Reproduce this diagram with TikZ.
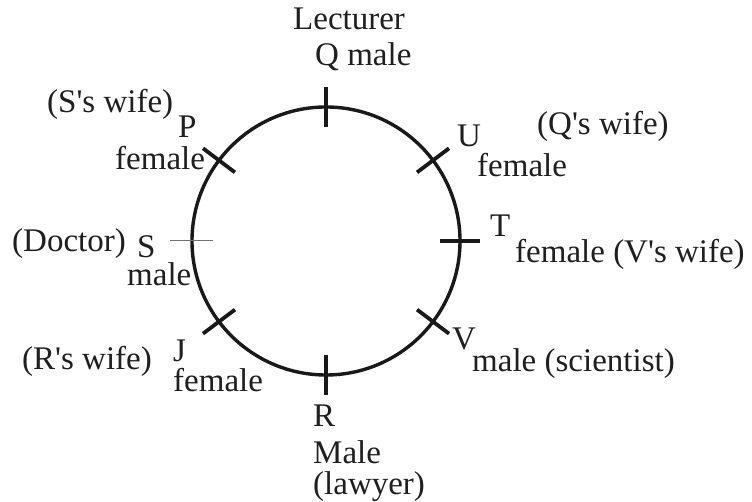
\documentclass[tikz,border=0pt]{standalone}
\usepackage{fontspec}
\setmainfont{Liberation Serif}
\usetikzlibrary{calc}
\newcommand\aq{\textquotesingle}
\tikzset{
  lbl/.style={inner sep=0pt, anchor=base west, font=\fontsize{33}{36}\selectfont, text=black!88},
  ring/.style={line width=3.4pt, draw=black!90},
  tickmark/.style={line width=3.8pt, draw=black!90},
  thintick/.style={line width=1pt, draw=black!55}
}
\begin{document}
\begin{tikzpicture}[x=1pt,y=1pt]
\useasboundingbox (0,0) rectangle (752,502);
\fill[white] (0,0) rectangle (752,502);
\coordinate (c) at (326,261);
\draw[ring] (c) circle (134);
% ticks
\foreach \nm/\ang in {q/90, t/0, r/270, p/143, u/37, j/217, v/323}{
  \coordinate (\nm1) at ($(c)+(\ang:114)$);
  \coordinate (\nm2) at ($(c)+(\ang:154)$);
  \draw[tickmark] (\nm1) -- (\nm2);
}
\coordinate (s1) at ($(c)+(180:113)$);
\coordinate (s2) at ($(c)+(180:156)$);
\draw[thintick] (s1) -- (s2);
% labels (image y -> 502 - y)
\node[lbl] (lect) at (293,472) {Lecturer};
\node[lbl] (qm) at (315,436) {Q male};
\node[lbl] (swife) at (47,389) {(S\aq s wife)};
\node[lbl] (pl) at (178,364) {P};
\node[lbl] (pf) at (115,332) {female};
\node[lbl] (ul) at (457,355) {U};
\node[lbl] (uf) at (477,325) {female};
\node[lbl] (qwife) at (537,367) {(Q\aq s wife)};
\node[lbl] (tl) at (490,265) {T};
\node[lbl] (tf) at (515,239) {female (V\aq s wife)};
\node[lbl] (doc) at (12,250) {(Doctor)};
\node[lbl] (sl) at (137,244) {S};
\node[lbl] (sm) at (127,216) {male};
\node[lbl] (rwife) at (22,132) {(R\aq s wife)};
\node[lbl] (jl) at (173,140) {J};
\node[lbl] (jf) at (173,110) {female};
\node[lbl] (vl) at (452,152) {V};
\node[lbl] (vm) at (472,130) {male (scientist)};
\node[lbl] (rl) at (313,75) {R};
\node[lbl] (rm) at (313,38) {Male};
\node[lbl] (rlaw) at (313,7) {(lawyer)};
\end{tikzpicture}
\end{document}
